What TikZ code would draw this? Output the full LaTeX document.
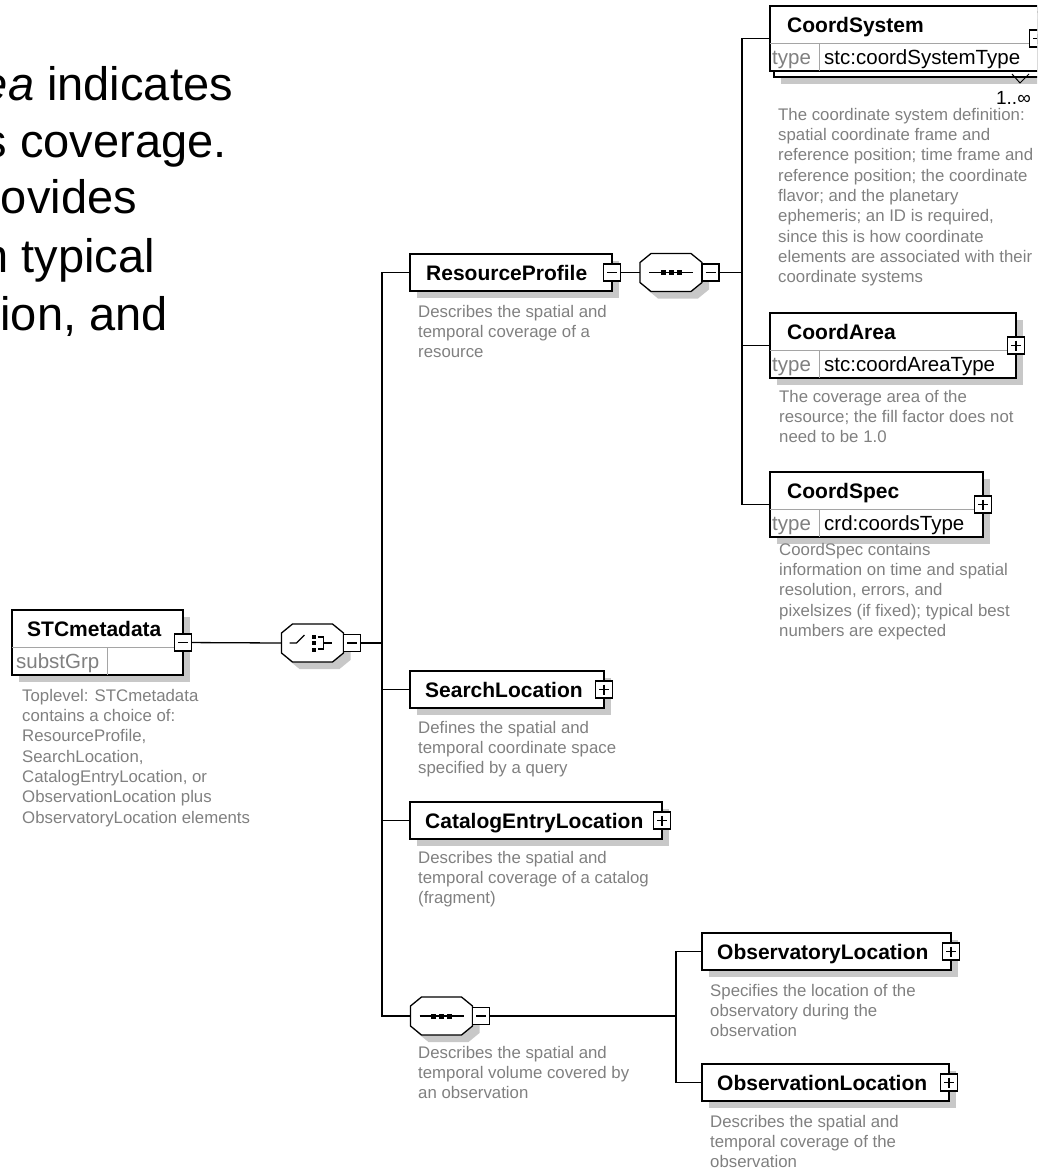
\documentclass[tikz,border=0pt]{standalone}
\usepackage{fontspec}
\setmainfont{Liberation Sans}
\usetikzlibrary{calc,shadows}

\definecolor{descgray}{RGB}{128,128,128}
\definecolor{shadowc}{RGB}{200,200,200}
\definecolor{rulegray}{RGB}{165,165,165}

\newcommand\ttlfont{\fontsize{21}{25}\selectfont\bfseries}
\newcommand\descfont{\fontsize{16.8}{20.3}\selectfont}
\newcommand\typefont{\fontsize{20.5}{24}\selectfont}
\newcommand\bigfont{\fontsize{47}{57}\selectfont}

% octagonal compositor outline (choice / sequence) around a node centre
\newcommand\drawoct[1]{%
  \begin{scope}[shift={($(#1)+(7,7)$)}]
    \fill[shadowc] (-31,-10) -- (-20,-19) -- (20,-19) -- (31,-10) -- (31,10) -- (20,19) -- (-20,19) -- (-31,10) -- cycle;
  \end{scope}
  \begin{scope}[shift={(#1)}]
    \filldraw[fill=white, line width=1.3pt] (-31,-10) -- (-20,-19) -- (20,-19) -- (31,-10) -- (31,10) -- (20,19) -- (-20,19) -- (-31,10) -- cycle;
  \end{scope}}

\tikzset{
  conn/.style={line width=1.3pt},
  elbox/.style={draw, fill=white, line width=1.3pt, rectangle, inner sep=0pt, outer sep=0pt, anchor=north west},
  shadowed/.style={drop shadow={shadow xshift=7pt, shadow yshift=-7pt, opacity=1, fill=shadowc, draw=none}},
  octnode/.style={rectangle, inner sep=0pt, outer sep=0pt, minimum width=62pt, minimum height=38pt},
  pmbox/.style={draw, fill=white, line width=1.2pt, rectangle, inner sep=0pt, outer sep=0pt, minimum width=17pt, minimum height=17pt},
  pmminus/.style={pmbox, path picture={\draw[line width=1.2pt] ($(path picture bounding box.center)+(-5,0)$) -- ($(path picture bounding box.center)+(5,0)$);}},
  pmplus/.style={pmbox, path picture={\draw[line width=1.2pt] ($(path picture bounding box.center)+(-5,0)$) -- ($(path picture bounding box.center)+(5,0)$) ($(path picture bounding box.center)+(0,-5)$) -- ($(path picture bounding box.center)+(0,5)$);}},
  ttl/.style={font=\ttlfont, anchor=base west, inner sep=0pt},
  desc/.style={font=\descfont, text=descgray, anchor=north west, inner sep=0pt, align=left},
  typelbl/.style={font=\typefont, text=descgray, anchor=base west, inner sep=0pt},
  typeval/.style={font=\typefont, anchor=base west, inner sep=0pt},
  divline/.style={draw=rulegray, line width=1pt},
  bigtxt/.style={font=\bigfont, anchor=base east, inner sep=0pt},
}

\begin{document}
\begin{tikzpicture}[x=1pt, y=-1pt]
\useasboundingbox (0,0) rectangle (1037,1168);
\clip (0,0) rectangle (1037,1168);

% ---- running text at the left ----
\node[bigtxt] (bt1) at (233,100) {\textit{ea} indicates};
\node[bigtxt] (bt2) at (227,157) {s coverage.};
\node[bigtxt] (bt3) at (137,213) {ovides};
\node[bigtxt] (bt4) at (155,272) {n typical};
\node[bigtxt] (bt5) at (168,330) {ion, and};

% ---- element boxes ----
% STCmetadata
\node[elbox, shadowed, minimum width=171pt, minimum height=65pt] (stc) at (12,610) {};
\draw[divline] ($(stc.north west)+(0,37)$) -- ($(stc.north east)+(0,37)$);
\draw[divline] ($(stc.north west)+(95,37)$) -- ($(stc.south west)+(95,0)$);
\node[ttl] (stc-t) at (27,636) {STCmetadata};
\node[typelbl] (stc-s) at (16,668) {substGrp};
\node[desc] (stc-d) at (22,689) {Toplevel: STCmetadata\\contains a choice of:\\ResourceProfile,\\SearchLocation,\\CatalogEntryLocation, or\\ObservationLocation plus\\ObservatoryLocation elements};

% ResourceProfile
\node[elbox, shadowed, minimum width=202pt, minimum height=37pt] (rp) at (410,254) {};
\node[ttl] (rp-t) at (426,280) {ResourceProfile};
\node[desc] (rp-d) at (418,305) {Describes the spatial and\\temporal coverage of a\\resource};

% CoordSystem (repeated element: stacked boxes)
\node[elbox, shadowed, minimum width=268pt, minimum height=65pt] (csb) at (774,12) {};
\node[elbox, minimum width=268pt, minimum height=65pt] (cs) at (770,6) {};
\draw[divline] ($(cs.north west)+(0,37)$) -- ($(cs.north east)+(0,37)$);
\draw[divline] ($(cs.north west)+(49,37)$) -- ($(cs.south west)+(49,0)$);
\node[ttl] (cs-t) at (787,32) {CoordSystem};
\node[typelbl] (cs-l) at (772,64) {type};
\node[typeval] (cs-v) at (824,64) {stc:coordSystemType};
\draw[line width=1pt] (1012,74) -- (1020,83) -- (1029,74);
\node[typeval, anchor=base east, font=\fontsize{19}{22}\selectfont] (cs-m) at (1031,104) {1..∞};
\node[desc] (cs-d) at (778,108) {The coordinate system definition:\\spatial coordinate frame and\\reference position; time frame and\\reference position; the coordinate\\flavor; and the planetary\\ephemeris; an ID is required,\\since this is how coordinate\\elements are associated with their\\coordinate systems};

% CoordArea
\node[elbox, shadowed, minimum width=246pt, minimum height=65pt] (ca) at (770,313) {};
\draw[divline] ($(ca.north west)+(0,37)$) -- ($(ca.north east)+(0,37)$);
\draw[divline] ($(ca.north west)+(49,37)$) -- ($(ca.south west)+(49,0)$);
\node[ttl] (ca-t) at (787,339) {CoordArea};
\node[typelbl] (ca-l) at (772,371) {type};
\node[typeval] (ca-v) at (824,371) {stc:coordAreaType};
\node[desc] (ca-d) at (779,390) {The coverage area of the\\resource; the fill factor does not\\need to be 1.0};

% CoordSpec
\node[elbox, shadowed, minimum width=213pt, minimum height=65pt] (csp) at (770,472) {};
\draw[divline] ($(csp.north west)+(0,37)$) -- ($(csp.north east)+(0,37)$);
\draw[divline] ($(csp.north west)+(49,37)$) -- ($(csp.south west)+(49,0)$);
\node[ttl] (csp-t) at (787,498) {CoordSpec};
\node[typelbl] (csp-l) at (772,530) {type};
\node[typeval] (csp-v) at (824,530) {crd:coordsType};
\node[desc] (csp-d) at (779,543) {CoordSpec contains\\information on time and spatial\\resolution, errors, and\\pixelsizes (if fixed); typical best\\numbers are expected};

% SearchLocation
\node[elbox, shadowed, minimum width=194pt, minimum height=37pt] (sl) at (410,671) {};
\node[ttl] (sl-t) at (425,697) {SearchLocation};
\node[desc] (sl-d) at (418,721) {Defines the spatial and\\temporal coordinate space\\specified by a query};

% CatalogEntryLocation
\node[elbox, shadowed, minimum width=252pt, minimum height=37pt] (cel) at (410,802) {};
\node[ttl] (cel-t) at (425,828) {CatalogEntryLocation};
\node[desc] (cel-d) at (418,851) {Describes the spatial and\\temporal coverage of a catalog\\(fragment)};

% ObservatoryLocation
\node[elbox, shadowed, minimum width=249pt, minimum height=37pt] (oy) at (702,933) {};
\node[ttl] (oy-t) at (717,959) {ObservatoryLocation};
\node[desc] (oy-d) at (710,984) {Specifies the location of the\\observatory during the\\observation};

% ObservationLocation
\node[elbox, shadowed, minimum width=247pt, minimum height=37pt] (on) at (702,1064) {};
\node[ttl] (on-t) at (717,1090) {ObservationLocation};
\node[desc] (on-d) at (710,1115) {Describes the spatial and\\temporal coverage of the\\observation};

% ---- compositors ----
% choice
\node[octnode] (ch) at (312.5,643) {};
\drawoct{ch}
\begin{scope}[shift={(ch)}, line width=1.2pt]
  \draw (-23,0) -- (-16,0) -- (-8,-8);
  \fill (-1,-8.5) rectangle (3,-4.5);
  \fill (-1,-2) rectangle (3,2);
  \fill (-1,4.5) rectangle (3,8.5);
  \draw (5,-6) -- (11,-6) -- (11,6) -- (5,6);
  \draw (11,0) -- (19,0);
\end{scope}

% sequences
\node[octnode] (sq1) at (671,272.5) {};
\drawoct{sq1}
\node[octnode] (sq2) at (441.5,1016) {};
\drawoct{sq2}
\foreach \s in {sq1,sq2}{
  \begin{scope}[shift={(\s)}]
    \draw[line width=1.2pt] (-22,0) -- (22,0);
    \fill (-10.5,-2.5) rectangle (-5.5,2.5);
    \fill (-2.5,-2.5) rectangle (2.5,2.5);
    \fill (5.5,-2.5) rectangle (10.5,2.5);
  \end{scope}}
\node[desc] (sq2-d) at (418,1046) {Describes the spatial and\\temporal volume covered by\\an observation};

% ---- trunk positions ----
\coordinate (t1) at (382,643);
\coordinate (t2) at (742,272.5);
\coordinate (t3) at (676,1016);

% ---- connectors ----
\draw[conn] (stc.east) -- (ch.west);
\draw[conn] (ch.east) -- (t1);
\draw[conn] (rp.west) -- (t1 |- rp.west) -- (t1 |- sq2.west) -- (sq2.west);
\draw[conn] (t1 |- sl.west) -- (sl.west);
\draw[conn] (t1 |- cel.west) -- (cel.west);
\draw[conn] (rp.east) -- (sq1.west);
\draw[conn] (sq1.east) -- (t2);
\draw[conn] (cs.west) -- (t2 |- cs.west) -- (t2 |- csp.west) -- (csp.west);
\draw[conn] (t2 |- ca.west) -- (ca.west);
\draw[conn] (sq2.east) -- (t3);
\draw[conn] (oy.west) -- (t3 |- oy.west) -- (t3 |- on.west) -- (on.west);

% ---- expand / collapse buttons ----
\node[pmminus] (stcx) at (stc.east) {};
\node[pmminus, anchor=west] (chx) at (ch.east) {};
\node[pmminus] (rpx) at (rp.east) {};
\node[pmminus, anchor=west] (sq1x) at (sq1.east) {};
\node[pmminus, anchor=west] (sq2x) at (sq2.east) {};
\node[pmplus] (csx) at (cs.east) {};
\node[pmplus] (cax) at (ca.east) {};
\node[pmplus] (cspx) at (csp.east) {};
\node[pmplus] (slx) at (sl.east) {};
\node[pmplus] (celx) at (cel.east) {};
\node[pmplus] (oyx) at (oy.east) {};
\node[pmplus] (onx) at (on.east) {};
\end{tikzpicture}
\end{document}
